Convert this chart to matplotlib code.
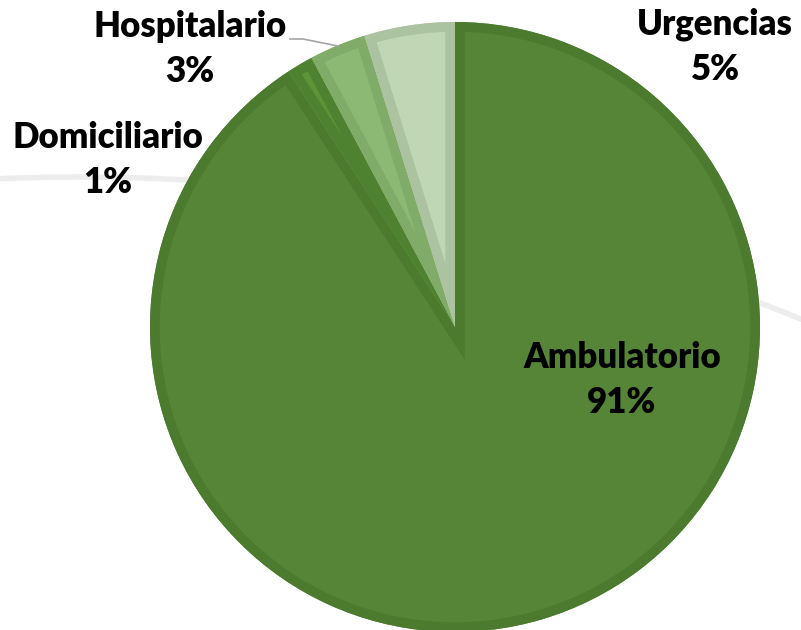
import matplotlib.pyplot as plt
from matplotlib.patches import Arc, Wedge

# data
categories = ["Ambulatorio", "Domiciliario", "Hospitalario", "Urgencias"]
shares = [90.8, 1.4, 3.0, 4.8]
fill_colors = ["#568538", "#5c9437", "#8cba74", "#c0d6b4"]
edge_colors = ["#4c7a2f", "#4f8230", "#80ab69", "#abc3a0"]

W, H = 801, 630
fig = plt.figure(figsize=(W / 100, H / 100), dpi=100)
ax = fig.add_axes([0, 0, 1, 1])

cx, cy, r = 455, H - 327, 305

wedges, _ = ax.pie(
    shares,
    startangle=90,
    counterclock=False,
    colors=fill_colors,
    radius=r,
    center=(cx, cy),
    wedgeprops=dict(linewidth=0),
)
# inner border: an outline copy of each wedge, clipped to the filled wedge
for w, ec in zip(wedges, edge_colors):
    w.set_zorder(3)
    border = Wedge(w.center, w.r, w.theta1, w.theta2, facecolor="none",
                   edgecolor=ec, linewidth=14, joinstyle="miter", zorder=3.5)
    ax.add_patch(border)
    border.set_clip_path(w)

# faint decorative arc behind the pie
ax.add_patch(Arc((80, H - 2077), 3800, 3800, theta1=60, theta2=95,
                 color="#ededed", lw=4, zorder=1))

ax.set_xlim(0, W)
ax.set_ylim(0, H)
ax.set_aspect("equal")
ax.axis("off")

# labels
font = dict(family=["Lato", "DejaVu Sans"], fontweight="heavy", fontsize=25,
            ha="center", va="center", linespacing=1.45, color="black", zorder=5)
label_pos = {
    "Ambulatorio": (622, 380),
    "Domiciliario": (108, 160),
    "Hospitalario": (190, 49),
    "Urgencias": (715, 47),
}
for name, val in zip(categories, shares):
    x, y = label_pos[name]
    ax.text(x, H - y, f"{name}\n{round(val)}%", **font)

# leader line for Hospitalario
ax.plot([290, 303, 338], [H - 39, H - 39, H - 46], color="#a6a6a6", lw=1.2, zorder=4)

plt.savefig("out.png", dpi=100)
